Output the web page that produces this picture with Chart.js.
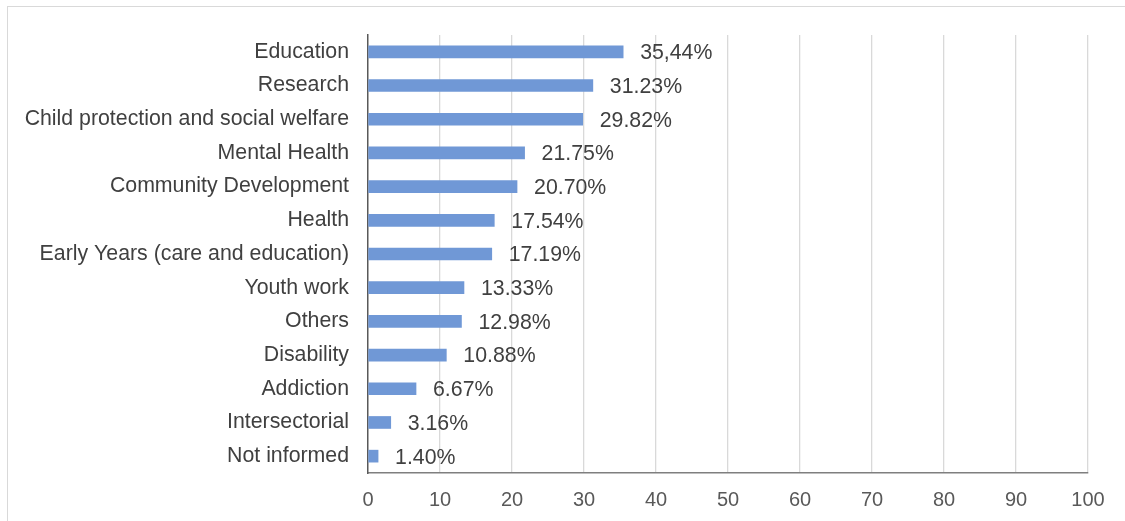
<!DOCTYPE html>
<html>
<head>
<meta charset="utf-8">
<script src="https://cdn.jsdelivr.net/npm/chart.js@4"></script>
<style>
  body { margin: 0; background: #fff; }
  #marco { position: absolute; left: 7px; top: 6px; width: 1130px; height: 530px; border-top: 1px solid #d9d9d9; border-left: 1px solid #d9d9d9; }
  #grafica { position: absolute; left: 0; top: 0; }
</style>
</head>
<body>
<div id="marco"></div>
<canvas id="grafica" width="1125" height="521"></canvas>
<script>
// Áreas de actuación (de mayor a menor)
const areas = [
    'Education',
    'Research',
    'Child protection and social welfare',
    'Mental Health',
    'Community Development',
    'Health',
    'Early Years (care and education)',
    'Youth work',
    'Others',
    'Disability',
    'Addiction',
    'Intersectorial',
    'Not informed'
];
const porcentajes = [35.44, 31.23, 29.82, 21.75, 20.70, 17.54, 17.19, 13.33, 12.98, 10.88, 6.67, 3.16, 1.40];
const etiquetas = ['35,44%', '31.23%', '29.82%', '21.75%', '20.70%', '17.54%', '17.19%', '13.33%', '12.98%', '10.88%', '6.67%', '3.16%', '1.40%'];
const marcasEjeX = [0, 10, 20, 30, 40, 50, 60, 70, 80, 90, 100];

// Escribe el porcentaje a la derecha de cada barra
const etiquetasBarras = {
    id: 'etiquetasBarras',
    afterDatasetsDraw(chart) {
        const ctx = chart.ctx;
        const meta = chart.getDatasetMeta(0);
        ctx.save();
        ctx.font = '21.3px "Liberation Sans", Arial, sans-serif';
        ctx.fillStyle = '#404040';
        ctx.textAlign = 'left';
        ctx.textBaseline = 'middle';
        meta.data.forEach((barra, i) => {
            ctx.fillText(etiquetas[i], barra.x + 17, barra.y + 1.5);
        });
        ctx.restore();
    }
};

const ctx = document.getElementById('grafica').getContext('2d');
new Chart(ctx, {
    type: 'bar',
    data: {
        labels: areas,
        datasets: [{
            data: porcentajes,
            backgroundColor: 'rgb(112, 152, 214)',
            barThickness: 12
        }]
    },
    options: {
        indexAxis: 'y',
        responsive: false,
        animation: false,
        layout: { padding: { left: 0, top: 35, right: 37, bottom: 0 } },
        plugins: {
            legend: { display: false },
            tooltip: { enabled: false }
        },
        scales: {
            x: {
                min: 0,
                max: 100,
                afterBuildTicks: (scale) => { scale.ticks = marcasEjeX.map(v => ({ value: v })); },
                afterFit: (scale) => { scale.height = 48; },
                grid: {
                    color: (c) => c.index === 0 ? 'rgba(0,0,0,0)' : '#d9d9d9',
                    lineWidth: 1.3,
                    drawTicks: false
                },
                border: { color: '#7f7f7f', width: 1.5 },
                ticks: {
                    color: '#595959',
                    font: { family: '"Liberation Sans", Arial, sans-serif', size: 20 },
                    padding: 15,
                    maxRotation: 0
                }
            },
            y: {
                afterFit: (scale) => { scale.width = 368; },
                grid: { display: false, drawTicks: false },
                border: { color: '#595959', width: 1.5 },
                ticks: {
                    color: '#404040',
                    font: { family: '"Liberation Sans", Arial, sans-serif', size: 21.3 },
                    padding: 19,
                    autoSkip: false
                }
            }
        }
    },
    plugins: [etiquetasBarras]
});
</script>
</body>
</html>
